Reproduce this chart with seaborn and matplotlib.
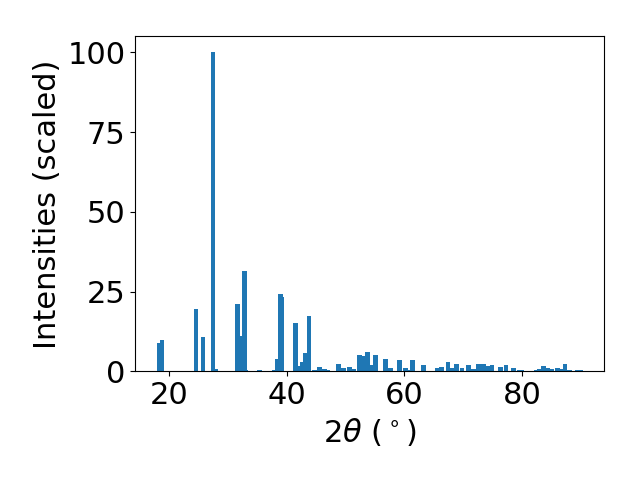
import matplotlib
matplotlib.use("Agg")
import matplotlib.pyplot as plt
import seaborn as sns
import pandas as pd

two_theta = [18.26, 18.77, 24.57, 25.76, 27.47, 27.87, 31.56, 32.4, 32.75, 33.0,
             35.3, 37.9, 38.4, 38.92, 39.15, 41.45, 42.1, 42.65, 43.15, 43.8,
             44.7, 45.6, 46.4, 46.9, 48.8, 49.6, 50.65, 51.3, 52.35, 53.2,
             53.7, 54.2, 55.1, 56.8, 57.65, 59.2, 60.2, 60.9, 61.4, 63.3,
             65.65, 66.35, 67.4, 68.05, 68.9, 69.8, 70.95, 71.8, 72.65, 73.5,
             74.2, 74.9, 76.4, 77.3, 78.6, 79.5, 79.9, 82.4, 82.9, 83.6,
             84.3, 85.1, 86.0, 86.65, 87.3, 88.1, 89.4, 89.95]
intensities = [8.9, 9.8, 19.5, 10.7, 100.0, 0.7, 21.1, 11.0, 31.5, 0.3,
               0.4, 0.4, 3.9, 24.2, 23.3, 15.2, 1.7, 2.9, 5.7, 17.3,
               0.4, 1.4, 0.8, 0.4, 2.3, 1.1, 1.4, 0.8, 5.1, 4.8,
               6.1, 2.0, 5.1, 3.9, 1.0, 3.5, 1.0, 0.4, 3.5, 2.0,
               1.0, 1.3, 2.9, 1.0, 2.3, 1.0, 2.0, 0.7, 2.3, 2.3,
               1.7, 2.0, 1.3, 2.0, 1.0, 0.4, 0.4, 0.4, 0.7, 1.7,
               1.0, 0.7, 1.0, 0.7, 2.3, 0.4, 0.4, 0.4]

df = pd.DataFrame({"two_theta": two_theta, "intensity": intensities})

plt.style.use("default")
sns.set_palette("tab10")
color = sns.color_palette()[0]

fig, ax = plt.subplots(figsize=(6.4, 4.8), dpi=100)
fig.subplots_adjust(left=0.2114, right=0.944, bottom=0.2265, top=0.924)
ax.bar(df["two_theta"], df["intensity"], width=0.8, color=color)
ax.set_xlabel(r"2$\theta$ ($^\circ$)", fontsize=22)
ax.set_ylabel("Intensities (scaled)", fontsize=22)
ax.tick_params(labelsize=22)
ax.set_xticks([20, 40, 60, 80])
ax.set_yticks([0, 25, 50, 75, 100])
fig.savefig("out.png", dpi=100)
